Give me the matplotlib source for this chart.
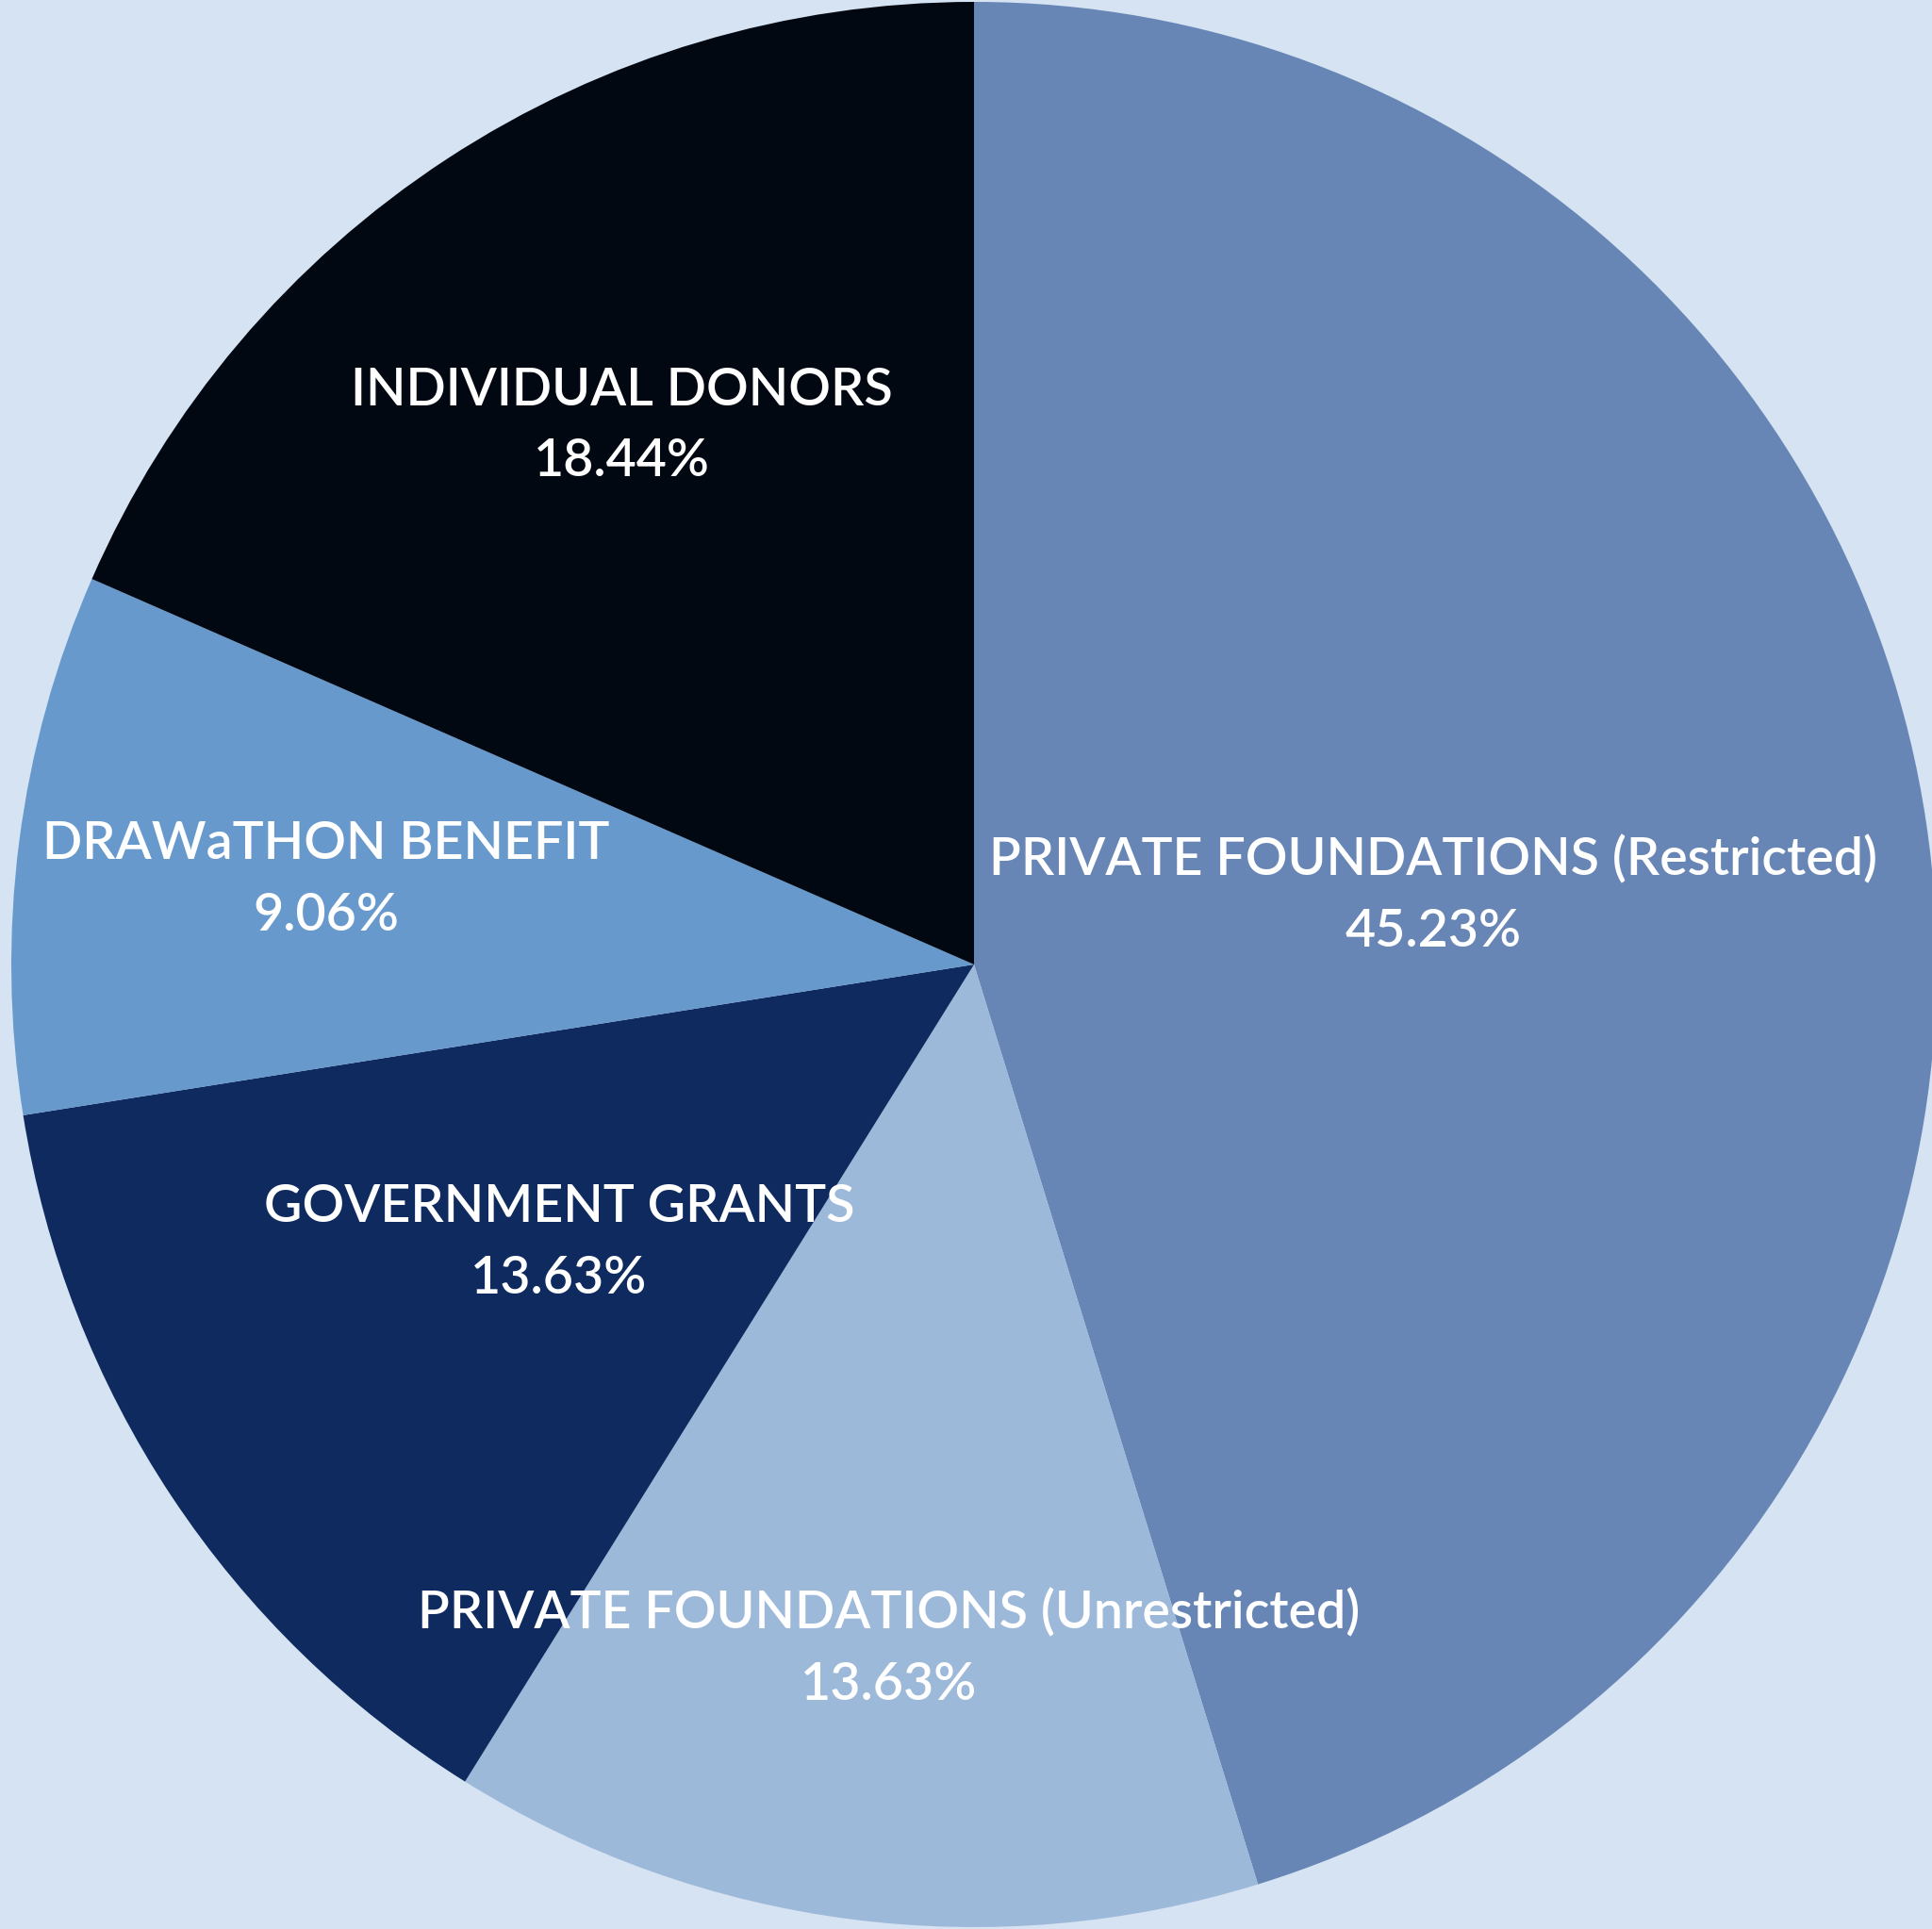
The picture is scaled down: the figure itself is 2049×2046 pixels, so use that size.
import matplotlib.pyplot as plt

# ===== data =====
labels = [
    "PRIVATE FOUNDATIONS (Restricted)",
    "PRIVATE FOUNDATIONS (Unrestricted)",
    "GOVERNMENT GRANTS",
    "DRAWaTHON BENEFIT",
    "INDIVIDUAL DONORS",
]
shares = [45.23, 13.63, 13.63, 9.06, 18.44]
colors = ["#6886B5", "#9DB9D9", "#0E2A5F", "#6799CD", "#020812"]

# label centres, in units of the pie radius relative to the centre
label_xy = [
    (0.477, 0.072),
    (-0.089, -0.710),
    (-0.431, -0.289),
    (-0.673, 0.088),
    (-0.366, 0.560),
]

bg = "#D5E3F2"
W, H = 2049, 2046
cx, cy = 1033, 1023   # pie centre in pixels (from top-left)
R = 1021              # pie radius in pixels

fig = plt.figure(figsize=(W / 100, H / 100), dpi=100, facecolor=bg)
ax = fig.add_axes([0, 0, 1, 1])
ax.set_facecolor(bg)

ax.pie(shares, colors=colors, startangle=90, counterclock=False,
       radius=1.0, wedgeprops=dict(linewidth=0))

ax.set_xlim(-cx / R, (W - cx) / R)
ax.set_ylim(-(H - cy) / R, cy / R)
ax.set_aspect("auto")
ax.axis("off")

for lab, val, (x, y) in zip(labels, shares, label_xy):
    ax.text(x, y, f"{lab}\n{val:.2f}%", ha="center", va="center",
            color="white", fontsize=40, family="Lato", fontweight="semibold",
            linespacing=1.62)

fig.savefig("out.png", dpi=100, facecolor=bg)
